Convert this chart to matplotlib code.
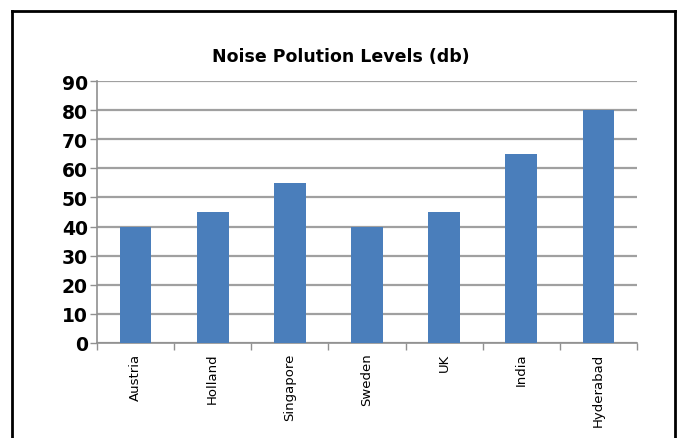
import matplotlib
matplotlib.use("Agg")
import matplotlib.pyplot as plt
from matplotlib.lines import Line2D
import numpy as np

plt.rcParams["font.family"] = ["DejaVu Sans"]

categories = ["Austria", "Holland", "Singapore", "Sweden", "UK", "India", "Hyderabad"]
values = [40, 45, 55, 40, 45, 65, 80]
yticks = [0, 10, 20, 30, 40, 50, 60, 70, 80, 90]
title = "Noise Polution Levels (db)"

W, H = 681, 439
fig = plt.figure(figsize=(W/100, H/100), dpi=100)
fig.patch.set_facecolor("white")

ax = fig.add_axes([97/W, (H-344)/H, (637-97)/W, (344-82)/H])
x = np.arange(len(categories))
ax.bar(x, values, width=0.41, color="#4a7ebb", zorder=3)
ax.set_xlim(-0.5, len(categories)-0.5)
ax.set_ylim(0, 90)
ax.set_yticks(yticks)
ax.set_yticklabels([str(v) for v in yticks], fontsize=13.5, fontweight="bold")
ax.set_xticks(x)
ax.set_xticklabels(categories, rotation=90, fontsize=9.5, va="top", ha="center")
ax.set_xticks(np.arange(-0.5, len(categories)), minor=True)
ax.tick_params(axis="x", which="major", length=0, pad=7)
ax.tick_params(axis="x", which="minor", length=5, color="#909090", width=1)
ax.tick_params(axis="y", length=5, color="#909090", width=1, pad=1.5)
ax.yaxis.grid(True, color="#a0a0a0", linewidth=1.6, zorder=0)
for s in ["top", "right"]:
    ax.spines[s].set_visible(False)
for s in ["left", "bottom"]:
    ax.spines[s].set_color("#909090")
    ax.spines[s].set_linewidth(1.2)

fig.text((211+471)/2/W, (H-57)/H, title, ha="center", va="center",
         fontsize=12.5, fontweight="bold")

# outer border (no bottom edge)
lx, rx, ty = 12/W, 675/W, (H-12)/H
fig.add_artist(Line2D([lx, lx], [0, ty], color="black", linewidth=2, transform=fig.transFigure))
fig.add_artist(Line2D([rx, rx], [0, ty], color="black", linewidth=2, transform=fig.transFigure))
fig.add_artist(Line2D([lx, rx], [ty, ty], color="black", linewidth=2, transform=fig.transFigure))

fig.savefig("out.png", dpi=100)
